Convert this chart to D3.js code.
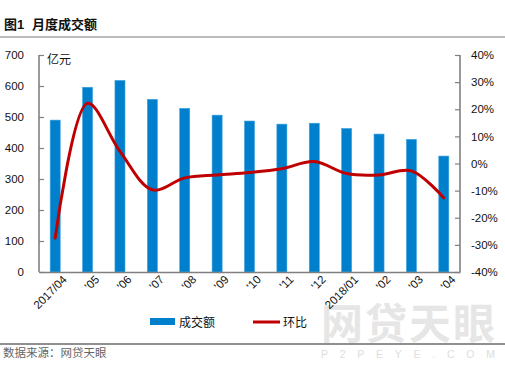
<!DOCTYPE html>
<html>
<head>
<meta charset="utf-8">
<script src="https://cdn.jsdelivr.net/npm/d3@7"></script>
<style>
  body { margin: 0; background: #fff; }
  text { font-family: "Liberation Sans", Arial, "Noto Sans CJK SC", sans-serif; }
</style>
</head>
<body>
<div id="chart"></div>
<script>
// data
const months = ["2017/04", "'05", "'06", "'07", "'08", "'09", "'10", "'11", "'12", "2018/01", "'02", "'03", "'04"];
const volume = [490, 596, 618, 557, 528, 506, 487, 477, 480, 463, 445, 428, 374];   // 亿元
const mom = [-27.5, 22.2, 4.5, -9.7, -5.3, -4.2, -3.3, -1.9, 0.7, -3.7, -4.2, -2.7, -12.7]; // %
const leftTicks = [0, 100, 200, 300, 400, 500, 600, 700];
const rightTicks = [-40, -30, -20, -10, 0, 10, 20, 30, 40];

const W = 505, H = 365;
const margin = {top: 55, right: 45, bottom: 93, left: 39},
    width = W - margin.left - margin.right,
    height = H - margin.top - margin.bottom;

const cjk = "'Noto Sans CJK SC', sans-serif";

const svg = d3.select("#chart")
  .append("svg")
    .attr("width", W)
    .attr("height", H);

// title
const title = svg.append("text")
    .attr("y", 29)
    .attr("font-family", cjk)
    .attr("font-weight", "bold")
    .attr("font-size", 13)
    .attr("fill", "#111");
title.append("tspan").attr("x", 4).text("图1");
title.append("tspan").attr("x", 32).text("月度成交额");
svg.append("line")
    .attr("x1", 0).attr("x2", W).attr("y1", 37).attr("y2", 37)
    .attr("stroke", "#777").attr("stroke-width", 1.2);

// watermark
svg.append("text")
    .attr("x", 321).attr("y", 339)
    .attr("font-family", cjk)
    .attr("font-weight", "bold")
    .attr("font-size", 42)
    .attr("fill", "#e6e6e6")
    .attr("textLength", 174)
    .text("网贷天眼");
svg.append("text")
    .attr("x", 321).attr("y", 358)
    .attr("font-size", 10.5)
    .attr("fill", "#dedede")
    .attr("textLength", 174)
    .text("P2PEYE.COM");

const g = svg.append("g")
    .attr("transform", `translate(${margin.left},${margin.top})`);

const x = d3.scaleBand()
    .domain(months)
    .range([0, width])
    .paddingInner(0.69)
    .paddingOuter(0.345);

const y = d3.scaleLinear().domain([0, 700]).range([height, 0]);
const y2 = d3.scaleLinear().domain([-40, 40]).range([height, 0]);

// bars
g.append("g")
  .selectAll("rect")
  .data(volume)
  .join("rect")
    .attr("x", (d, i) => x(months[i]))
    .attr("y", d => y(d))
    .attr("width", x.bandwidth())
    .attr("height", d => height - y(d))
    .attr("fill", "#0080cc")
    .attr("stroke", "#3fa3dc")
    .attr("stroke-width", 0.6);

// axes
const axisColor = "#808080";
const yAxis = g.append("g")
    .call(d3.axisLeft(y).tickValues(leftTicks).tickSize(-5).tickPadding(15));
const yAxis2 = g.append("g")
    .attr("transform", `translate(${width},0)`)
    .call(d3.axisRight(y2).tickValues(rightTicks).tickSize(-5).tickPadding(11).tickFormat(d => d + "%"));
const xAxis = g.append("g")
    .attr("transform", `translate(0,${height})`)
    .call(d3.axisBottom(x).tickSize(0).tickPadding(10));

[yAxis, yAxis2, xAxis].forEach(a => {
  a.select(".domain").attr("stroke", axisColor).attr("stroke-width", 1.6);
  a.selectAll(".tick line").attr("stroke", axisColor).attr("stroke-width", 1.2);
  a.selectAll(".tick text").attr("fill", "#111")
    .attr("font-family", "'DejaVu Sans', Verdana, sans-serif").style("font-size", "11.5px");
});
yAxis.select(".domain").attr("d", `M-0,0V${height}`);
yAxis2.select(".domain").attr("d", `M0,0V${height}`);

xAxis.selectAll(".tick text")
    .attr("text-anchor", "end")
    .attr("dx", "0.25em")
    .attr("dy", "0.4em")
    .attr("transform", "rotate(-45)");

// unit label
g.append("text")
    .attr("x", 8).attr("y", 9)
    .attr("font-family", cjk)
    .attr("font-size", 12)
    .attr("fill", "#111")
    .text("亿元");

// line
const line = d3.line()
    .x((d, i) => x(months[i]) + x.bandwidth() / 2)
    .y(d => y2(d))
    .curve(d3.curveCatmullRom.alpha(0.5));

g.append("path")
    .datum(mom)
    .attr("fill", "none")
    .attr("stroke", "#c00000")
    .attr("stroke-width", 3)
    .attr("stroke-linecap", "round")
    .attr("d", line);

// legend
const legend = svg.append("g").attr("transform", "translate(0,322)");
legend.append("rect")
    .attr("x", 150).attr("y", -4).attr("width", 25).attr("height", 7)
    .attr("fill", "#0080cc");
legend.append("text")
    .attr("x", 179).attr("y", 5)
    .attr("font-family", cjk).attr("font-size", 12).attr("fill", "#111")
    .text("成交额");
legend.append("line")
    .attr("x1", 253).attr("x2", 280).attr("y1", 0).attr("y2", 0)
    .attr("stroke", "#c00000").attr("stroke-width", 3);
legend.append("text")
    .attr("x", 283).attr("y", 5)
    .attr("font-family", cjk).attr("font-size", 12).attr("fill", "#111")
    .text("环比");

// footer
svg.append("line")
    .attr("x1", 0).attr("x2", W).attr("y1", 344).attr("y2", 344)
    .attr("stroke", "#222").attr("stroke-width", 1.2);
svg.append("text")
    .attr("x", 3).attr("y", 357)
    .attr("font-family", cjk)
    .attr("font-size", 11.5)
    .attr("fill", "#666")
    .text("数据来源：网贷天眼");
</script>
</body>
</html>
